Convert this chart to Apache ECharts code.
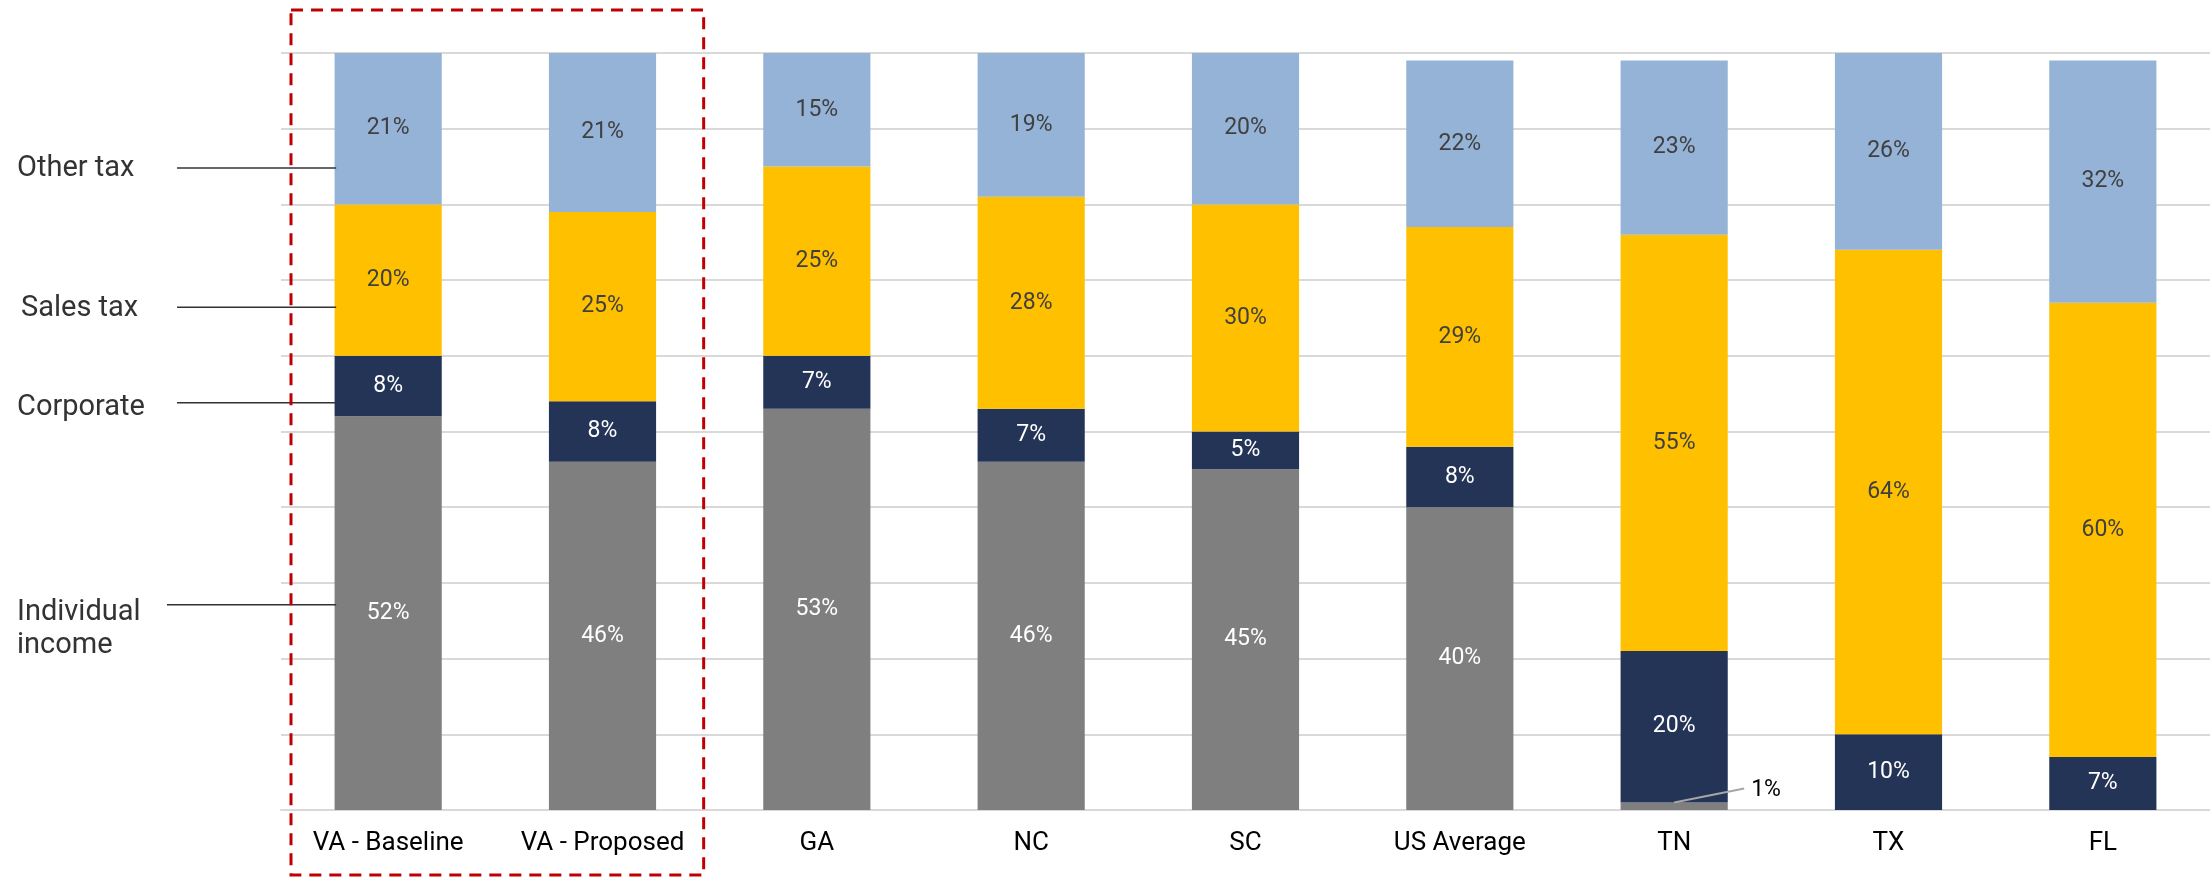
<!DOCTYPE html>
<html>
<head>
<meta charset="utf-8">
<style>
  html, body { margin: 0; padding: 0; background: #ffffff; }
  #chart { width: 2210px; height: 877px; }
</style>
<script src="https://cdn.jsdelivr.net/npm/echarts@6/dist/echarts.min.js"></script>
</head>
<body>
<div id="chart"></div>
<script>
// Share of state tax revenue by source (percent)
const categories = ['VA - Baseline', 'VA - Proposed', 'GA', 'NC', 'SC', 'US Average', 'TN', 'TX', 'FL'];
const individualIncome = [52, 46, 53, 46, 45, 40, 1, 0, 0];
const corporate       = [8, 8, 7, 7, 5, 8, 20, 10, 7];
const salesTax        = [20, 25, 25, 28, 30, 29, 55, 64, 60];
const otherTax        = [21, 21, 15, 19, 20, 22, 23, 26, 32];
const yTicks = { min: 0, max: 100, interval: 10 };

const FONT = 'Roboto, "Liberation Sans", sans-serif';

function pctLabel(color, hideIndex) {
  return {
    show: true,
    position: 'inside',
    color: color,
    fontFamily: FONT,
    fontSize: 23,
    formatter: function (p) {
      if (p.value === 0 || (hideIndex !== undefined && p.dataIndex === hideIndex)) return '';
      return p.value + '%';
    }
  };
}

function seriesOf(name, data, color, labelColor, hideIndex) {
  return {
    name: name,
    type: 'bar',
    stack: 'total',
    barWidth: '50%',
    data: data,
    itemStyle: { color: color },
    label: pctLabel(labelColor, hideIndex),
    emphasis: { disabled: true }
  };
}

const chart = echarts.init(document.getElementById('chart'), null, { renderer: 'canvas' });

chart.setOption({
  animation: false,
  backgroundColor: '#ffffff',
  grid: { left: 281, top: 53, width: 1935, bottom: 67, containLabel: false },
  xAxis: {
    type: 'category',
    data: categories,
    axisTick: { show: false },
    axisLine: { show: true, lineStyle: { color: '#d9d9d9', width: 2 } },
    axisLabel: { color: '#000000', fontFamily: FONT, fontSize: 26, margin: 20 }
  },
  yAxis: {
    type: 'value',
    min: yTicks.min,
    max: yTicks.max,
    interval: yTicks.interval,
    axisLabel: { show: false },
    axisLine: { show: false },
    axisTick: { show: false },
    splitLine: { show: true, lineStyle: { color: '#d9d9d9', width: 2 } }
  },
  series: [
    seriesOf('Individual income', individualIncome, '#7f7f7f', '#ffffff', 6),
    seriesOf('Corporate', corporate, '#243457', '#ffffff'),
    seriesOf('Sales tax', salesTax, '#ffc000', '#404040'),
    seriesOf('Other tax', otherTax, '#95b3d7', '#404040')
  ]
});

// Annotations placed from the chart's own scales
const ann = [];
const lineStyle = { stroke: '#333333', lineWidth: 1.5 };
const textStyle = { fill: '#333333', font: '29px ' + FONT };

// Left-side series names with pointer lines into the first bar
const firstLeft = chart.convertToPixel({ xAxisIndex: 0, yAxisIndex: 0 }, [0, 0])[0] - 54;
const pointers = [
  { text: 'Other tax', y: 84.8, tx: 17, lx: 177, dy: 1 },
  { text: 'Sales tax', y: 66.4, tx: 21, lx: 177, dy: 1 },
  { text: 'Corporate', y: 53.8, tx: 17, lx: 177, dy: 5 },
  { text: 'Individual\nincome', y: 27.1, tx: 17, lx: 167, dy: 24 }
];
pointers.forEach(function (p) {
  const py = chart.convertToPixel({ yAxisIndex: 0 }, p.y);
  ann.push({
    type: 'line',
    shape: { x1: p.lx, y1: py, x2: firstLeft + 2, y2: py },
    style: lineStyle, z: 100
  });
  ann.push({
    type: 'text',
    x: p.tx,
    y: py + p.dy,
    style: Object.assign({ text: p.text, verticalAlign: 'middle', lineHeight: 33 }, textStyle),
    z: 100
  });
});

// Small-share callout for TN individual income
const tnIdx = categories.indexOf('TN');
const tnBase = chart.convertToPixel({ xAxisIndex: 0, yAxisIndex: 0 }, [tnIdx, individualIncome[tnIdx]]);
ann.push({
  type: 'line',
  shape: { x1: tnBase[0], y1: tnBase[1], x2: tnBase[0] + 70, y2: tnBase[1] - 14 },
  style: { stroke: '#a6a6a6', lineWidth: 2 }, z: 100
});
ann.push({
  type: 'text',
  x: tnBase[0] + 77,
  y: tnBase[1] - 12,
  style: { text: individualIncome[tnIdx] + '%', fill: '#000000', font: '23px ' + FONT, verticalAlign: 'middle' },
  z: 100
});

// Dashed frame around the two Virginia scenarios
const c0 = chart.convertToPixel({ xAxisIndex: 0 }, 0);
const c1 = chart.convertToPixel({ xAxisIndex: 0 }, 1);
const step = c1 - c0;
ann.push({
  type: 'rect',
  shape: { x: c0 - step / 2 + 10, y: 10, width: step * 2 - 16, height: 865 },
  style: { fill: 'none', stroke: '#c00000', lineWidth: 3, lineDash: [12, 8] },
  z: 100
});

chart.setOption({ graphic: { elements: ann } });
</script>
</body>
</html>
